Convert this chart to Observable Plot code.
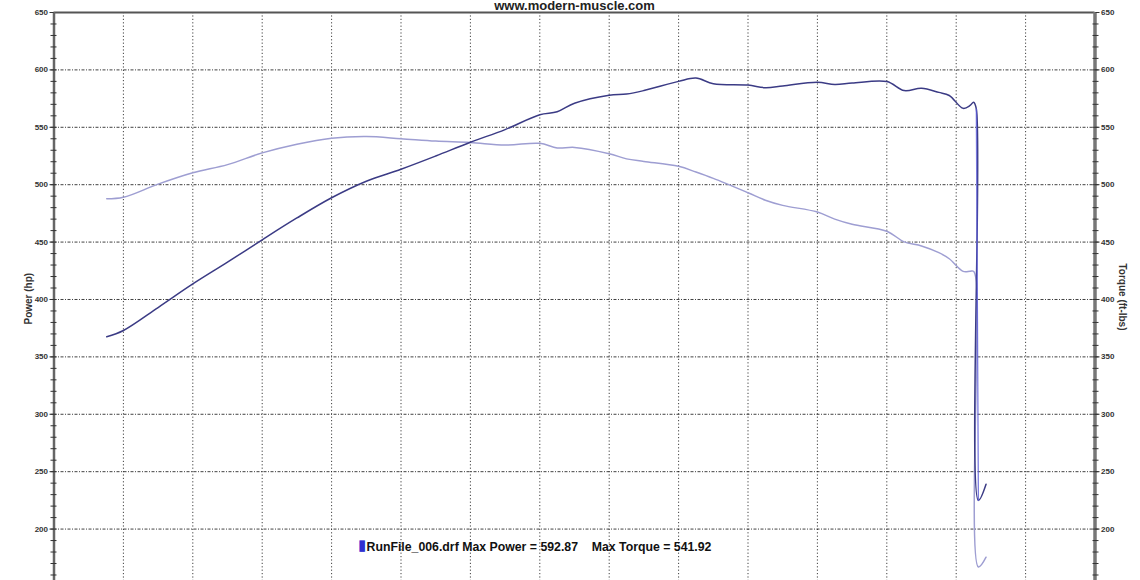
<!DOCTYPE html>
<html>
<head>
<meta charset="utf-8">
<script src="https://cdn.jsdelivr.net/npm/d3@7"></script>
<script src="https://cdn.jsdelivr.net/npm/@observablehq/plot@0.6"></script>
<style>
html, body { margin: 0; padding: 0; background: #fff; overflow: hidden; }
</style>
</head>
<body>
<div id="chart"></div>
<script>
// Engine speed samples (rpm) along the dyno pull
const rpm = [1880, 2000, 2250, 2500, 2750, 3000, 3250, 3500, 3750, 4000, 4250, 4500, 4750, 5000, 5125, 5250, 5500, 5625, 5750, 6000, 6125, 6250, 6500, 6625, 6750, 7000, 7125, 7250, 7500, 7625, 7750, 7875, 7950, 8050, 8100, 8125, 8145, 8160, 8215];
// Power (hp)
const power = [367.5, 373, 393, 413.5, 432.5, 452, 471, 488.6, 503, 513.5, 525, 537, 548, 561, 563.5, 571, 578, 579, 582, 590, 592.9, 588, 586.8, 584.5, 586, 589.3, 587.3, 588.5, 589.9, 582, 584, 580.4, 577.7, 566.5, 569, 571.9, 566, 225, 239];
// Torque (ft-lbs)
const torque = [487.7, 489, 500.5, 510.4, 517.5, 527.7, 535.3, 540.5, 541.9, 540.1, 538, 536.8, 534.5, 536, 532, 532.5, 527, 522.5, 520.3, 516, 511, 505.5, 493, 486.5, 482, 476.2, 470, 465.5, 459.5, 450.2, 446.6, 440.8, 435.5, 424.5, 424.6, 424.6, 416, 167, 175.5];

const xGrid = [2000, 2500, 3000, 3500, 4000, 4500, 5000, 5500, 6000, 6500, 7000, 7500, 8000, 8500];
const yGrid = [200, 250, 300, 350, 400, 450, 500, 550, 600];
const yMajor = [200, 250, 300, 350, 400, 450, 500, 550, 600, 650];
const yMinor = d3.range(160, 650, 10);

const titleText = "www.modern-muscle.com";
const leftLabel = "Power (hp)";
const rightLabel = "Torque (ft-lbs)";
const legendText = "RunFile_006.drf Max Power = 592.87    Max Torque = 541.92";

const data = rpm.map((r, i) => ({rpm: r, power: power[i], torque: torque[i]}));
const dropData = data.filter(d => d.rpm >= 8145 && d.rpm <= 8160);

const tickFont = {fontWeight: "bold", fontSize: 8, color: "#333"};

const chart = Plot.plot({
  width: 1140,
  height: 580,
  marginLeft: 53.5,
  marginRight: 45.5,
  marginTop: 12,
  marginBottom: 0,
  style: {fontFamily: "'Liberation Sans', Arial, sans-serif", background: "#fff", overflow: "visible"},
  x: {domain: [1500, 9000], axis: null},
  y: {domain: [155.2, 650]},
  marks: [
    Plot.gridX({ticks: xGrid, stroke: "#111", strokeOpacity: 0.8, strokeDasharray: "1.2,2.2"}),
    Plot.gridY({ticks: yGrid, stroke: "#111", strokeOpacity: 0.8, strokeDasharray: "3,1.5,1,1.5"}),
    Plot.ruleY([650], {stroke: "#555", strokeWidth: 2}),
    Plot.ruleX([1500], {stroke: "#666", strokeWidth: 2.5}),
    Plot.ruleX([9000], {stroke: "#777", strokeWidth: 3.5}),
    Plot.axisY({anchor: "left", ticks: yMinor, tickSize: 6, dx: 3, tickFormat: () => "", label: null, color: "#333"}),
    Plot.axisY({anchor: "left", ticks: yMajor, tickSize: 4, tickPadding: 2, label: null, ...tickFont}),
    Plot.axisY({anchor: "right", ticks: yMinor, tickSize: 6, dx: -3, tickFormat: () => "", label: null, color: "#333"}),
    Plot.axisY({anchor: "right", ticks: yMajor, tickSize: 4, tickPadding: 2, label: null, ...tickFont}),
    Plot.line(data, {x: "rpm", y: "torque", stroke: "#9e9ed2", strokeWidth: 1.5, curve: "catmull-rom"}),
    Plot.line(data, {x: "rpm", y: "power", stroke: "#3b3b85", strokeWidth: 1.5, curve: "catmull-rom"}),
    Plot.line(dropData, {x: "rpm", y: "power", stroke: "#5a5ad8", strokeWidth: 1.3, strokeOpacity: 0.8}),
    Plot.text([titleText], {text: d => d, frameAnchor: "top", lineAnchor: "top", dy: -11.5, fontSize: 13, fontWeight: "bold", fill: "#222"}),
    Plot.text([leftLabel], {text: d => d, frameAnchor: "left", rotate: -90, dx: -25.5, dy: 28, fontSize: 10, fontWeight: "bold", fill: "#333"}),
    Plot.text([rightLabel], {text: d => d, frameAnchor: "right", rotate: 90, dx: 27.5, dy: 34, fontSize: 10, fontWeight: "bold", fill: "#333"}),
    Plot.text(["▮"], {text: d => d, frameAnchor: "bottom-left", dx: 304, dy: -31, fontSize: 15, fill: "#3030d0"}),
    Plot.text([legendText], {text: d => d, frameAnchor: "bottom-left", textAnchor: "start", dx: 312.5, dy: -30, fontSize: 12.3, fontWeight: "bold", fill: "#111"})
  ]
});
document.getElementById("chart").appendChild(chart);
</script>
</body>
</html>
